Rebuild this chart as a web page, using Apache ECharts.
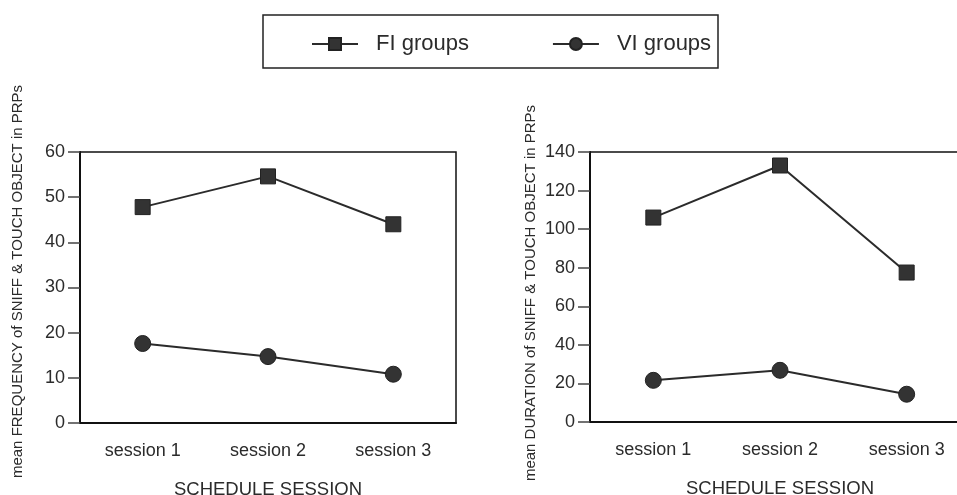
<!DOCTYPE html>
<html>
<head>
<meta charset="utf-8">
<script src="https://cdn.jsdelivr.net/npm/echarts@6/dist/echarts.min.js"></script>
<style>
  html, body { margin: 0; padding: 0; background: #fff; }
  #chart { width: 957px; height: 495px; }
</style>
</head>
<body>
<div id="chart"></div>
<script>
const sessions = ["session 1", "session 2", "session 3"];
const freqFI = [47.8, 54.6, 44.0];
const freqVI = [17.6, 14.7, 10.8];
const durFI = [106, 133, 77.5];
const durVI = [21.6, 26.8, 14.4];

const FONT = "Arial, 'Liberation Sans', sans-serif";
const INK = "#2b2b2b";

const chartDom = document.getElementById("chart");
const chart = echarts.init(chartDom);

const xAxisFor = (gridIndex) => ({
  type: "category",
  gridIndex: gridIndex,
  data: sessions,
  boundaryGap: true,
  name: "SCHEDULE SESSION",
  nameLocation: "middle",
  nameGap: 57,
  nameTextStyle: { fontFamily: FONT, fontSize: 18.5, color: INK },
  axisLine: { lineStyle: { color: "#111", width: 2 } },
  axisTick: { alignWithLabel: true, length: 12, lineStyle: { color: "#444", width: 1.5 } },
  axisLabel: { margin: 19, fontFamily: FONT, fontSize: 18, color: INK },
  splitLine: { show: false },
});

// pad shifts the rotated axis name along the axis
const yAxisFor = (gridIndex, max, interval, name, gap, pad) => ({
  type: "value",
  gridIndex: gridIndex,
  min: 0,
  max: max,
  interval: interval,
  name: name,
  nameLocation: "middle",
  nameGap: gap,
  nameTextStyle: { fontFamily: FONT, fontSize: 15, color: INK, padding: pad },
  axisLine: { show: true, lineStyle: { color: "#111", width: 2 } },
  axisTick: { show: true, length: 12, lineStyle: { color: "#444", width: 1.5 } },
  axisLabel: { margin: 15, fontFamily: FONT, fontSize: 18, color: INK },
  splitLine: { show: false },
});

const seriesFor = (name, symbol, data, idx) => ({
  name: name,
  type: "line",
  xAxisIndex: idx,
  yAxisIndex: idx,
  data: data,
  symbol: symbol,
  symbolSize: symbol === "rect" ? 15 : 16,
  lineStyle: { color: INK, width: 2 },
  itemStyle: { color: "#333", borderColor: "#222", borderWidth: 1 },
  animation: false,
});

option = {
  animation: false,
  backgroundColor: "#fff",
  legend: {
    top: 28,
    left: 306,
    itemWidth: 46,
    itemHeight: 15,
    itemGap: 83,
    textStyle: { fontFamily: FONT, fontSize: 22, color: INK, padding: [0, 0, 0, 13] },
    data: ["FI groups", "VI groups"],
  },
  graphic: [
    {
      type: "rect",
      shape: { x: 263, y: 15, width: 455, height: 53 },
      style: { fill: "none", stroke: "#222", lineWidth: 1.5 },
      z: -1,
    },
  ],
  grid: [
    { left: 80, top: 152, width: 376, height: 271, outerBoundsMode: "none", show: true, borderColor: "#111", borderWidth: 1.5 },
    { left: 590, top: 152, width: 380, height: 270, outerBoundsMode: "none", show: true, borderColor: "#111", borderWidth: 1.5 },
  ],
  xAxis: [xAxisFor(0), xAxisFor(1)],
  yAxis: [
    yAxisFor(0, 60, 10, "mean FREQUENCY of SNIFF & TOUCH OBJECT in PRPs", 55, [0, 0, 0, 12]),
    yAxisFor(1, 140, 20, "mean DURATION of SNIFF & TOUCH OBJECT in PRPs", 52, [0, 12, 0, 0]),
  ],
  series: [
    seriesFor("FI groups", "rect", freqFI, 0),
    seriesFor("VI groups", "circle", freqVI, 0),
    seriesFor("FI groups", "rect", durFI, 1),
    seriesFor("VI groups", "circle", durVI, 1),
  ],
};

chart.setOption(option);
</script>
</body>
</html>
